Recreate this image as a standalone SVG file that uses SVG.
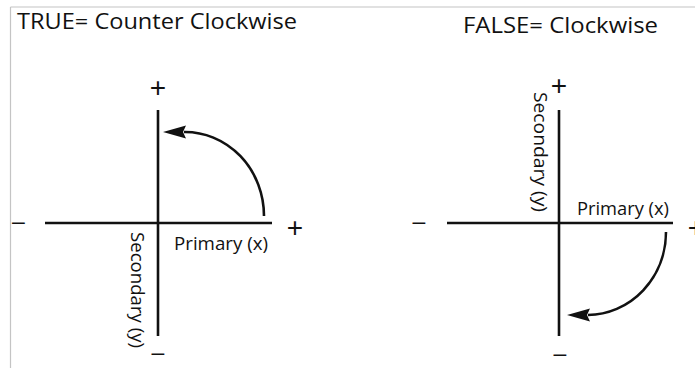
<svg xmlns="http://www.w3.org/2000/svg" width="695" height="368" viewBox="0 0 695 368">
<style>
.frame{stroke:#c4c4c4;stroke-width:1.2;fill:none}
.axis{stroke:#111;stroke-width:2.6;fill:none}
.arc{stroke:#111;stroke-width:2.6;fill:none}
.head{fill:#111}
.title{font-family:"Open Sans","Liberation Sans",Arial,sans-serif;font-size:21.5px;fill:#111}
.lbl{font-family:"Open Sans","Liberation Sans",Arial,sans-serif;font-size:18.5px;fill:#111}
.sign{font-family:"Liberation Sans",Arial,sans-serif;font-size:28px;fill:#111;text-anchor:middle}
.minus{font-family:"Liberation Sans",Arial,sans-serif;font-size:23px;fill:#111;text-anchor:middle}
</style>
<rect width="695" height="368" fill="#fff"/>
<g id="frame">
<line class="frame" x1="10.5" y1="7" x2="10.5" y2="368"/>
<line class="frame" x1="10.5" y1="7" x2="695" y2="7"/>
</g>
<g id="title-true"><text class="title" x="17" y="29" textLength="280" lengthAdjust="spacingAndGlyphs">TRUE= Counter Clockwise</text></g>
<g id="title-false"><text class="title" x="463" y="33" textLength="195" lengthAdjust="spacingAndGlyphs">FALSE= Clockwise</text></g>

<g id="left-axes">
<line class="axis" x1="45" y1="223" x2="272" y2="223"/>
<line class="axis" x1="158" y1="110" x2="158" y2="336"/>
<text class="sign" x="158" y="97">+</text>
<text class="sign" x="295" y="237">+</text>
<text class="minus" x="18.5" y="229">–</text>
<text class="minus" x="158" y="360">–</text>
<text class="lbl" x="174" y="250" textLength="94" lengthAdjust="spacingAndGlyphs">Primary (x)</text>
<text class="lbl" transform="translate(131,232) rotate(90)" textLength="116" lengthAdjust="spacingAndGlyphs">Secondary (y)</text>
</g>

<g id="right-axes">
<line class="axis" x1="447" y1="223" x2="673" y2="223"/>
<line class="axis" x1="559" y1="110" x2="559" y2="336"/>
<text class="sign" x="559" y="95">+</text>
<text class="sign" x="696" y="237">+</text>
<text class="minus" x="419" y="229">–</text>
<text class="minus" x="560" y="361">–</text>
<text class="lbl" x="577" y="215" textLength="92" lengthAdjust="spacingAndGlyphs">Primary (x)</text>
<text class="lbl" transform="translate(534,92) rotate(90)" textLength="120" lengthAdjust="spacingAndGlyphs">Secondary (y)</text>
</g>

<g id="connectors">
<path class="arc" d="M264,216 A79,84 0 0 0 184,132"/>
<path class="head" d="M163,132 L186,125.5 L183,132 L186,138.5 Z"/>
<path class="arc" d="M666,232 A79,83 0 0 1 588,315"/>
<path class="head" d="M567,315 L590,308.5 L587,315 L590,321.5 Z"/>
</g>
</svg>
